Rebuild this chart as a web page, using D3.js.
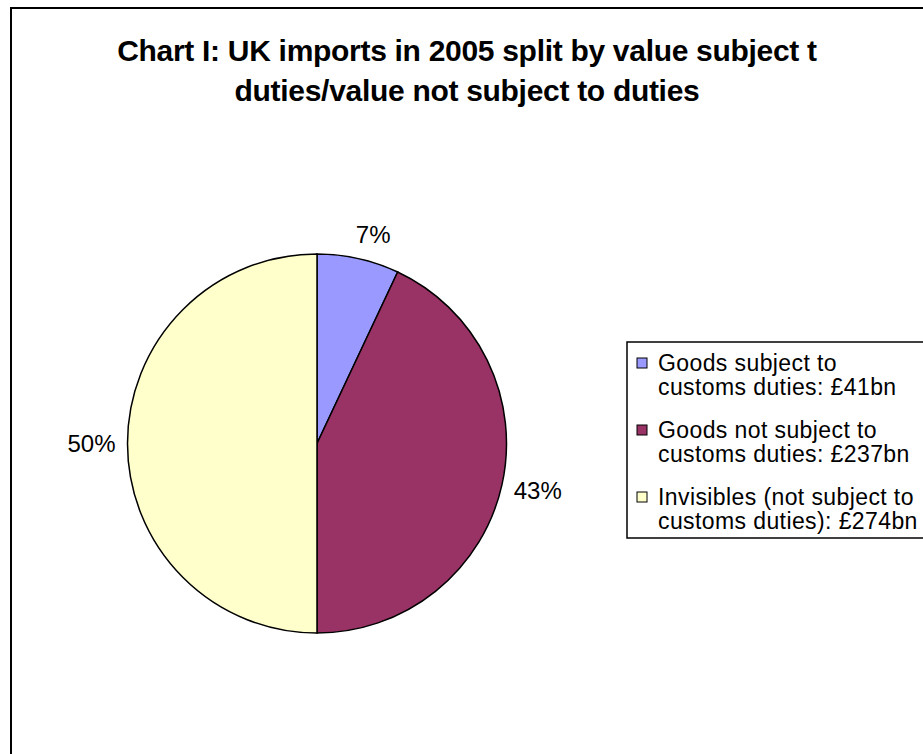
<!DOCTYPE html>
<html>
<head>
<meta charset="utf-8">
<script src="https://cdn.jsdelivr.net/npm/d3@7"></script>
<style>
  body { margin: 0; background: #fff; }
  svg { display: block; font-family: "Liberation Sans", Arial, sans-serif; }
</style>
</head>
<body>
<script>
const width = 923, height = 754;

// data
const categories = ["Goods subject to customs duties: £41bn",
                    "Goods not subject to customs duties: £237bn",
                    "Invisibles (not subject to customs duties): £274bn"];
const legendLines = [["Goods subject to", "customs duties: £41bn"],
                     ["Goods not subject to", "customs duties: £237bn"],
                     ["Invisibles (not subject to", "customs duties): £274bn"]];
const shares = [7, 43, 50];
const pctLabels = ["7%", "43%", "50%"];
const colors = ["#9999FF", "#993366", "#FFFFCC"];
const titleLines = ["Chart I: UK imports in 2005 split by value subject t",
                    "duties/value not subject to duties"];

const svg = d3.select("body").append("svg")
    .attr("width", width)
    .attr("height", height);

// outer chart border (right/bottom fall outside the picture)
svg.append("rect")
    .attr("x", 11).attr("y", 8)
    .attr("width", 1000).attr("height", 1000)
    .attr("fill", "#fff")
    .attr("stroke", "#000")
    .attr("stroke-width", 2);

// title
svg.append("g").selectAll("text")
    .data(titleLines)
    .enter().append("text")
    .attr("x", 467)
    .attr("y", (d, i) => 61 + i * 40)
    .attr("text-anchor", "middle")
    .attr("font-size", 30)
    .attr("font-weight", "bold")
    .attr("letter-spacing", -0.3)
    .text(d => d);

// pie
const cx = 317, cy = 443.5, r = 189.5;
const pie = d3.pie().sort(null).value(d => d);
const arcs = pie(shares);
const arc = d3.arc().innerRadius(0).outerRadius(r);

const g_pie = svg.append("g")
    .attr("transform", `translate(${cx}, ${cy})`);

g_pie.selectAll("path")
    .data(arcs)
    .enter().append("path")
    .attr("d", arc)
    .attr("fill", (d, i) => colors[i])
    .attr("stroke", "#000")
    .attr("stroke-width", 1.5);

// percentage labels, outside end
const labelR = r + 10;
g_pie.selectAll(".lbl")
    .data(arcs)
    .enter().append("text")
    .attr("class", "lbl")
    .attr("font-size", 24)
    .attr("text-anchor", "middle")
    .attr("dominant-baseline", "central")
    .text((d, i) => pctLabels[i])
    .each(function(d) {
        const a = (d.startAngle + d.endAngle) / 2;
        const s = Math.sin(a), c = Math.cos(a);
        const hw = this.getComputedTextLength() / 2 + 2, hh = 15;
        const x = s * labelR + Math.sign(s) * hw * Math.min(1, Math.abs(s) * 3);
        const y = -c * labelR - c * hh;
        d3.select(this).attr("x", x).attr("y", y);
    });

// legend
const lg = svg.append("g")
    .attr("transform", "translate(627, 342)");

lg.append("rect")
    .attr("width", 400)
    .attr("height", 196)
    .attr("fill", "#fff")
    .attr("stroke", "#000")
    .attr("stroke-width", 1.5);

const lineH = 24, itemH = 67;
const items = lg.selectAll(".item")
    .data(legendLines)
    .enter().append("g")
    .attr("class", "item")
    .attr("transform", (d, i) => `translate(0, ${i * itemH})`);

items.append("rect")
    .attr("x", 10).attr("y", 16)
    .attr("width", 10).attr("height", 10)
    .attr("fill", (d, i) => colors[i])
    .attr("stroke", "#000")
    .attr("stroke-width", 1);

items.selectAll("text")
    .data(d => d)
    .enter().append("text")
    .attr("x", 31)
    .attr("y", (d, j) => 29 + j * lineH)
    .attr("font-size", 23)
    .attr("letter-spacing", 0.4)
    .text(d => d);
</script>
</body>
</html>
